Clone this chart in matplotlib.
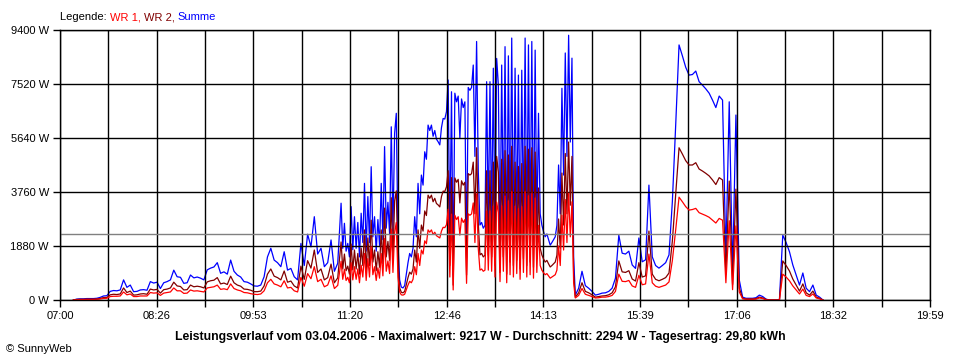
import numpy as np
import matplotlib
matplotlib.use("Agg")
import matplotlib.pyplot as plt

plt.rcParams['font.family'] = ['Liberation Sans', 'DejaVu Sans']

# -----------------------------
# Data (minutes after 07:00)
# morning: 3-min samples from 07:12, midday: 1.5-min samples from 11:12,
# afternoon: 3-min samples from 14:45
# -----------------------------
morning_start, morning_step = 12, 3
midday_start, midday_step = 252, 1.5
afternoon_start, afternoon_step = 465, 3

wr2_morning = [0, 20, 25, 25, 30, 30, 30, 35, 55, 85,
               90, 180, 200, 190, 210, 420, 260, 310, 170, 180,
               210, 220, 200, 380, 350, 370, 240, 360, 380, 420,
               620, 490, 470, 350, 360, 520, 460, 480, 460, 420,
               630, 670, 690, 780, 560, 590, 540, 830, 600, 520,
               480, 380, 370, 340, 290, 290, 310, 490, 900, 1080,
               830, 780, 700, 1010, 620, 660, 490, 420, 1180, 720,
               1370, 1110, 1740, 960, 1080, 700, 780, 1250, 600, 770]
wr1_morning = [0, 10, 15, 15, 20, 20, 20, 25, 35, 55,
               60, 120, 130, 130, 140, 280, 180, 210, 120, 120,
               140, 140, 140, 260, 240, 250, 160, 240, 260, 280,
               420, 320, 320, 230, 240, 350, 310, 320, 300, 280,
               420, 440, 460, 520, 370, 390, 360, 560, 400, 350,
               320, 260, 250, 220, 200, 190, 210, 320, 600, 720,
               560, 520, 460, 670, 420, 440, 320, 280, 790, 480,
               920, 740, 1160, 640, 720, 460, 520, 840, 400, 510]

wr2_midday = [2020, 1080, 1600, 1020, 1180, 900, 1950, 1050, 1740, 1080,
              1620, 900, 1810, 1200, 2440, 1020, 2160, 1200, 2780, 1320,
              1740, 1020, 1680, 1140, 2440, 1260, 3200, 1500, 2040, 1380,
              3560, 1440, 3450, 3800, 1200, 420, 270, 250, 300, 540,
              780, 970, 900, 1080, 1740, 1320, 2440, 1800, 2610, 2400,
              3100, 2940, 3650, 3540, 3650, 3420, 3540, 3360, 3310, 3240,
              3600, 3790, 3780, 3940, 4500, 1200, 4260, 520, 4250, 4100,
              4200, 3380, 4150, 4000, 4100, 870, 4400, 4350, 4400, 4800,
              3000, 5300, 2700, 1570, 1620, 1500, 1560, 4500, 1560, 4500,
              1500, 4800, 1200, 5000, 4450, 960, 4900, 1500, 5200, 900,
              5050, 1320, 5350, 1200, 4800, 1380, 4650, 1080, 4750, 1440,
              5350, 1200, 5250, 1320, 5300, 1140, 5150, 1440, 3900, 1800,
              1570, 1430, 1320, 1380, 1260, 1150, 1200, 1260, 1320, 1560,
              2820, 1800, 4420, 2610, 5100, 3000, 5500, 3300, 5000, 900,
              100]
wr1_midday = [1350, 720, 1070, 680, 790, 600, 1300, 700, 1160, 720,
              1080, 600, 1210, 800, 1620, 680, 1440, 800, 1860, 880,
              1160, 680, 1120, 760, 1620, 840, 2140, 1000, 1360, 920,
              2470, 960, 2350, 2700, 800, 280, 180, 170, 200, 360,
              520, 650, 600, 720, 1160, 880, 1620, 1200, 1740, 1600,
              2060, 1960, 2440, 2360, 2440, 2280, 2360, 2240, 2200, 2160,
              2400, 2530, 2520, 2620, 3160, 800, 2990, 350, 2950, 2800,
              2900, 2260, 2850, 2700, 2800, 580, 3000, 2950, 3000, 3380,
              2000, 3700, 1800, 1040, 1080, 1000, 1040, 3100, 1040, 3100,
              1000, 3270, 800, 3410, 3050, 640, 3280, 1000, 3620, 600,
              3450, 880, 3770, 800, 3270, 920, 3180, 720, 3250, 960,
              3770, 800, 3630, 880, 3700, 760, 3550, 960, 2600, 1200,
              1040, 950, 880, 920, 840, 760, 800, 840, 880, 1040,
              1880, 1200, 2950, 1740, 3500, 2000, 3717, 2200, 3420, 600,
              70]

wr2_afternoon = [250, 600, 300, 250, 180, 100, 120, 140, 150,
                 180, 250, 460, 1360, 980, 960, 1020, 730, 660, 1300,
                 800, 840, 2400, 900, 720, 670, 720, 780, 940, 2050,
                 3650, 5300, 5080, 4850, 4700, 4700, 4780, 4560, 4490, 4410,
                 4320, 4180, 4020, 4260, 4180, 900, 4140, 540, 3860, 420,
                 60, 35, 35, 35, 50, 100, 70, 20, 0, 0,
                 0, 0, 1360, 1200, 1010, 730, 520, 310, 560, 250,
                 170, 310, 100, 60, 0]
wr1_afternoon = [160, 400, 200, 160, 120, 70, 80, 100, 100,
                 120, 160, 300, 900, 650, 640, 680, 490, 440, 860,
                 530, 560, 1600, 600, 480, 440, 480, 520, 630, 1370,
                 2440, 3580, 3420, 3250, 3130, 3150, 3190, 3040, 2990, 2940,
                 2880, 2780, 2680, 2840, 2780, 600, 2760, 360, 2580, 280,
                 40, 25, 25, 25, 30, 70, 50, 10, 0, 0,
                 0, 0, 900, 800, 670, 490, 350, 210, 380, 160,
                 120, 210, 70, 40, 0]

average_w = 2294

x_tick_labels = ["07:00", "08:26", "09:53", "11:20", "12:46",
                 "14:13", "15:39", "17:06", "18:32", "19:59"]
y_ticks = [0, 1880, 3760, 5640, 7520, 9400]

minutes = np.concatenate([
    morning_start + morning_step * np.arange(len(wr1_morning)),
    midday_start + midday_step * np.arange(len(wr1_midday)),
    afternoon_start + afternoon_step * np.arange(len(wr1_afternoon)),
])
wr1 = np.array(wr1_morning + wr1_midday + wr1_afternoon)
wr2 = np.array(wr2_morning + wr2_midday + wr2_afternoon)
summe = wr1 + wr2

# -----------------------------
# Plot
# -----------------------------
fig = plt.figure(figsize=(9.6, 3.6), dpi=100, facecolor="white")
ax = fig.add_axes([60 / 960, 60 / 360, 870 / 960, 270 / 360])

ax.plot(minutes, summe, color="#0000FF", lw=0.9, zorder=2)
ax.plot(minutes, wr2, color="#800000", lw=0.9, zorder=3)
ax.plot(minutes, wr1, color="#FF0000", lw=0.9, zorder=4)
ax.axhline(average_w, color="#808080", lw=1.0, zorder=6)

ax.set_xlim(0, 780)
ax.set_ylim(0, 9400)

xt = np.linspace(0, 780, 19)
ax.set_xticks(xt)
ax.set_xticklabels([x_tick_labels[i // 2] if i % 2 == 0 else ""
                    for i in range(len(xt))])
ax.set_yticks(y_ticks)
ax.set_yticklabels([f"{v} W" for v in y_ticks])

ax.grid(True, color="black", lw=1.0, zorder=5)
ax.set_axisbelow(False)
ax.tick_params(direction="out", length=5, width=1, color="black",
               labelsize=8, pad=3)
for s in ax.spines.values():
    s.set_color("black")
    s.set_linewidth(1.0)
    s.set_zorder(7)

# Legend as coloured text pieces
prev = fig.text(60 / 960, 1 - 17 / 360, "Legende: ", fontsize=8,
                color="black", va="center")
fig.canvas.draw()
renderer = fig.canvas.get_renderer()
for txt, col in [("WR 1, ", "#FF0000"), ("WR 2, ", "#800000"), ("Summe", "#0000FF")]:
    bb = prev.get_window_extent(renderer)
    prev = fig.text(bb.x1 / fig.bbox.width, 1 - 17 / 360, txt,
                    fontsize=8, color=col, va="center")

fig.text(0.5, 1 - 337 / 360,
         "Leistungsverlauf vom 03.04.2006 - Maximalwert: 9217 W - "
         "Durchschnitt: 2294 W - Tagesertrag: 29,80 kWh",
         ha="center", va="center", fontsize=8.8, fontweight="bold")
fig.text(6 / 960, 1 - 349 / 360, "\u00a9 SunnyWeb", fontsize=8,
         va="center")

fig.savefig("out.png", dpi=100, facecolor="white")
